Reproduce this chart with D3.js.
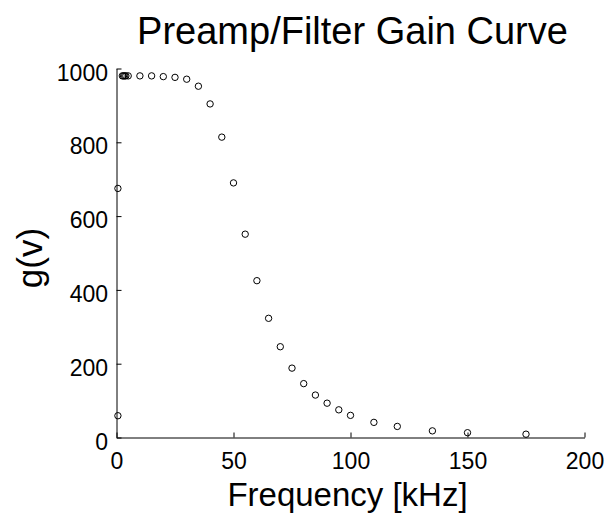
<!DOCTYPE html>
<html>
<head>
<meta charset="utf-8">
<script src="https://cdn.jsdelivr.net/npm/d3@7"></script>
<style>
  html, body { margin: 0; padding: 0; background: #fff; }
  svg { display: block; }
  text { font-family: "Liberation Sans", Arial, Helvetica, sans-serif; fill: #000; }
</style>
</head>
<body>
<svg id="chart" width="607" height="523"></svg>
<script>
// Data
const frequency = [0.6, 0.6, 2.5, 3, 3.5, 4, 5, 10, 15, 20, 25, 30, 35, 40, 45, 50, 55, 60, 65, 70, 75, 80, 85, 90, 95, 100, 110, 120, 135, 150, 175];
const gain = [675, 59, 980, 980, 980, 980, 980, 980, 980, 978, 976, 971, 952, 904, 814, 690, 551, 425, 323, 246, 188, 146, 115, 93, 75, 60, 41, 30, 18, 13, 9];
const xTicks = [0, 50, 100, 150, 200];
const yTicks = [0, 200, 400, 600, 800, 1000];
const titleText = "Preamp/Filter Gain Curve";
const xLabelText = "Frequency [kHz]";
const yLabelText = "g(v)";

const svg = d3.select("#chart");
const plotLeft = 116.5, plotRight = 584.5, plotTop = 68.5, plotBottom = 437.5;

const x = d3.scaleLinear().domain([0, 200]).range([plotLeft, plotRight]);
const y = d3.scaleLinear().domain([0, 1000]).range([plotBottom, plotTop]);

const tickFont = 23;

// X axis
const gx = svg.append("g")
  .attr("transform", `translate(0,${plotBottom})`)
  .call(d3.axisBottom(x).tickValues(xTicks).tickFormat(d3.format("d"))
    .tickSizeInner(-5).tickSizeOuter(0).tickPadding(15.5));
gx.selectAll("text").attr("font-size", tickFont).attr("font-family", "Liberation Sans, Arial, sans-serif").attr("fill", "#000");

// Y axis
const gy = svg.append("g")
  .attr("transform", `translate(${plotLeft},0)`)
  .call(d3.axisLeft(y).tickValues(yTicks).tickFormat(d3.format("d"))
    .tickSizeInner(-5).tickSizeOuter(0).tickPadding(8.5));
gy.selectAll("text").attr("font-size", tickFont).attr("dy", "0.5em").attr("font-family", "Liberation Sans, Arial, sans-serif").attr("fill", "#000");

svg.selectAll(".domain, .tick line").attr("stroke", "#000").attr("stroke-width", 1);

// Points
svg.append("g").selectAll("circle")
  .data(frequency.map((f, i) => [f, gain[i]]))
  .join("circle")
  .attr("cx", d => x(d[0]))
  .attr("cy", d => y(d[1]))
  .attr("r", 3.2)
  .attr("fill", "none")
  .attr("stroke", "#000")
  .attr("stroke-width", 1);

// Title
svg.append("text")
  .attr("x", (plotLeft + plotRight) / 2 + 2)
  .attr("y", 44)
  .attr("text-anchor", "middle")
  .attr("font-size", 38)
  .text(titleText);

// X label
svg.append("text")
  .attr("x", (plotLeft + plotRight) / 2 - 3)
  .attr("y", 506)
  .attr("text-anchor", "middle")
  .attr("font-size", 33)
  .text(xLabelText);

// Y label
svg.append("text")
  .attr("transform", `translate(42,258) rotate(-90)`)
  .attr("text-anchor", "middle")
  .attr("font-size", 35)
  .text(yLabelText);
</script>
</body>
</html>
